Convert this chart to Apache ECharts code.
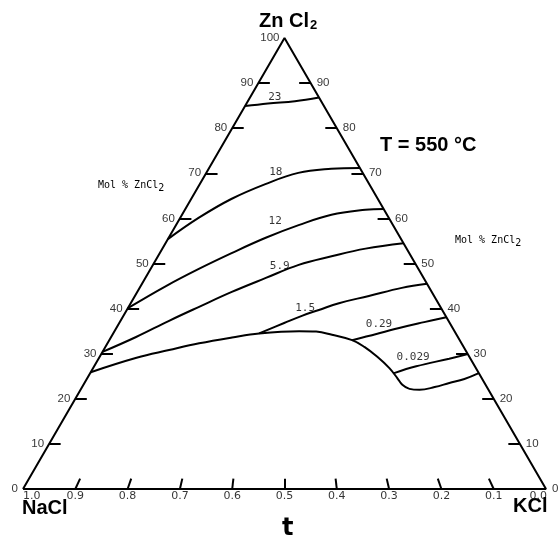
<!DOCTYPE html>
<html><head><meta charset="utf-8">
<script src="https://cdn.jsdelivr.net/npm/echarts@6/dist/echarts.min.js"></script>
<style>html,body{margin:0;padding:0;background:#fff}#c{width:558px;height:541px}</style>
</head><body><div id="c"></div>
<script>
// Each curve point: [t, mol % ZnCl2], t = NaCl/(NaCl+KCl) (1.0 at NaCl, 0.0 at KCl)
const curve23 = [[1.0,84.9],[0.719,85.5],[0.358,86.0],[0.0,86.8]];
const curve18 = [[1.0,55.4],[0.912,60.1],[0.785,64.3],[0.613,67.6],[0.412,70.1],[0.192,71.0],[0.0,71.2]];
const curve12 = [[1.0,40.1],[0.912,45.0],[0.820,48.8],[0.712,52.3],[0.581,55.7],[0.435,58.5],[0.271,60.8],[0.094,61.9],[0.0,62.1]];
const curve59 = [[1.0,30.4],[0.928,33.7],[0.852,37.3],[0.774,40.4],[0.679,43.7],[0.567,46.8],[0.446,49.7],[0.314,51.6],[0.168,53.3],[0.0,54.5]];
const curve15 = [[0.574,34.5],[0.501,36.8],[0.446,38.4],[0.391,39.7],[0.323,41.2],[0.218,42.8],[0.095,44.6],[0.0,45.5]];
const curve029 = [[0.307,33.0],[0.264,33.8],[0.159,35.7],[0.076,37.0],[0.0,38.1]];
const curve0029 = [[0.218,25.7],[0.154,27.2],[0.057,28.9],[0.0,29.9]];
const boundary = [[1.0,25.9],[0.899,29.1],[0.819,30.8],[0.741,32.3],[0.651,33.6],[0.574,34.5],[0.457,35.0],[0.407,34.9],[0.362,34.2],[0.307,33.0],[0.277,31.5],[0.249,29.3],[0.226,26.8],[0.214,24.6],[0.207,23.1],[0.193,22.2],[0.169,22.0],[0.129,22.6],[0.088,23.5],[0.045,24.4],[0.0,25.7]];

const isoLabels = ['23','18','12','5.9','1.5','0.29','0.029'];
const isoLabelPos = [[0.641,86.8],[0.556,70.2],[0.544,59.5],[0.518,49.5],[0.434,40.1],[0.215,36.6],[0.152,29.3]];

const zTicks = [0,10,20,30,40,50,60,70,80,90,100];
const tTicks = [1.0,0.9,0.8,0.7,0.6,0.5,0.4,0.3,0.2,0.1,0.0];
const tTickLabels = ['1.0','0.9','0.8','0.7','0.6','0.5','0.4','0.3','0.2','0.1','0.0'];

function xy(t, z) { const f = z / 100; return [(1 - t) * (1 - f) + f / 2, z]; }
const conv = arr => arr.map(p => xy(p[0], p[1]));

const LW = 2;
const lineS = (data) => ({
  type: 'line', data: conv(data), smooth: 0.4, symbol: 'none',
  lineStyle: { color: '#000', width: LW }, silent: true, animation: false
});

const tickLen = 0.022;
const tickLines = [];
zTicks.forEach(z => {
  if (z > 0 && z < 100) {
    const L = xy(1, z), R = xy(0, z);
    tickLines.push({ coords: [L, [L[0] + tickLen, z]] });
    tickLines.push({ coords: [R, [R[0] - tickLen, z]] });
  }
});
tTicks.forEach(t => {
  if (t > 0 && t < 1) tickLines.push({ coords: [xy(t, 0), xy(t, 2.3)] });
});

const tickFont = { fontFamily: 'Liberation Sans', fontSize: 11.5, color: '#000' };

const chart = echarts.init(document.getElementById('c'), null, { renderer: 'canvas' });
chart.setOption({
  backgroundColor: '#fff',
  animation: false,
  grid: { left: 23, right: 12, top: 38, bottom: 52 },
  xAxis: { type: 'value', min: 0, max: 1, show: false },
  yAxis: { type: 'value', min: 0, max: 100, show: false },
  series: [
    { type: 'line', data: [xy(1,0), xy(0,0), xy(0,100), xy(1,0)], symbol: 'none',
      lineStyle: { color: '#000', width: LW }, silent: true },
    lineS(curve23), lineS(curve18), lineS(curve12), lineS(curve59),
    lineS(curve15), lineS(curve029), lineS(curve0029), lineS(boundary),
    { type: 'lines', coordinateSystem: 'cartesian2d', data: tickLines, silent: true,
      lineStyle: { color: '#000', width: 2, opacity: 1 } },
    { type: 'scatter', symbolSize: 0, silent: true,
      data: zTicks.map(z => ({ value: xy(1, z), name: String(z) })),
      label: { show: true, position: 'left', distance: 5, formatter: '{b}', ...tickFont } },
    { type: 'scatter', symbolSize: 0, silent: true,
      data: zTicks.filter(z => z < 100).map(z => ({ value: xy(0, z), name: String(z) })),
      label: { show: true, position: 'right', distance: 6, formatter: '{b}', ...tickFont } },
    { type: 'scatter', symbolSize: 0, silent: true,
      data: tTicks.map((t, i) => {
        const d = { value: xy(t, 0), name: tTickLabels[i] };
        if (i === 0) d.label = { align: 'left', offset: [0, 0] };
        if (i === tTicks.length - 1) d.label = { align: 'right', offset: [1, 0] };
        return d;
      }),
      label: { show: true, position: 'bottom', distance: 2, formatter: '{b}',
        fontFamily: 'DejaVu Sans', fontSize: 11, color: '#000' } },
    { type: 'scatter', symbolSize: 0, silent: true,
      data: isoLabelPos.map((p, i) => ({ value: xy(p[0], p[1]), name: isoLabels[i] })),
      label: { show: true, position: 'inside', formatter: '{b}',
        fontFamily: 'DejaVu Sans Mono', fontSize: 11, color: '#000' } }
  ],
  graphic: [
    { type: 'text', left: 259, top: 11, style: {
      text: '{a|Zn Cl}{b|2}',
      rich: { a: { fontFamily: 'Liberation Sans', fontWeight: 'bold', fontSize: 20, fill: '#000', lineHeight: 22 },
              b: { fontFamily: 'Liberation Sans', fontWeight: 'bold', fontSize: 13, fill: '#000', lineHeight: 22, padding: [8, 0, 0, 1] } } } },
    { type: 'text', left: 380, top: 135, style: {
      text: 'T = 550 °C', font: 'bold 20px "Liberation Sans"', fill: '#000' } },
    { type: 'text', left: 98, top: 178, style: {
      text: '{a|Mol % ZnCl}{b|2}',
      rich: { a: { fontFamily: 'DejaVu Sans Mono', fontSize: 10, fill: '#000', lineHeight: 14 },
              b: { fontFamily: 'DejaVu Sans Mono', fontSize: 10, fill: '#000', lineHeight: 14, padding: [5, 0, 0, 0] } } } },
    { type: 'text', left: 455, top: 233, style: {
      text: '{a|Mol % ZnCl}{b|2}',
      rich: { a: { fontFamily: 'DejaVu Sans Mono', fontSize: 10, fill: '#000', lineHeight: 14 },
              b: { fontFamily: 'DejaVu Sans Mono', fontSize: 10, fill: '#000', lineHeight: 14, padding: [5, 0, 0, 0] } } } },
    { type: 'text', left: 22, top: 498, style: {
      text: 'NaCl', font: 'bold 20px "Liberation Sans"', fill: '#000' } },
    { type: 'text', left: 513, top: 496, style: {
      text: 'KCl', font: 'bold 20px "Liberation Sans"', fill: '#000' } },
    { type: 'text', left: 282, top: 517, style: {
      text: 't', font: 'bold 24px "DejaVu Sans"', fill: '#000' } }
  ]
});
</script></body></html>
